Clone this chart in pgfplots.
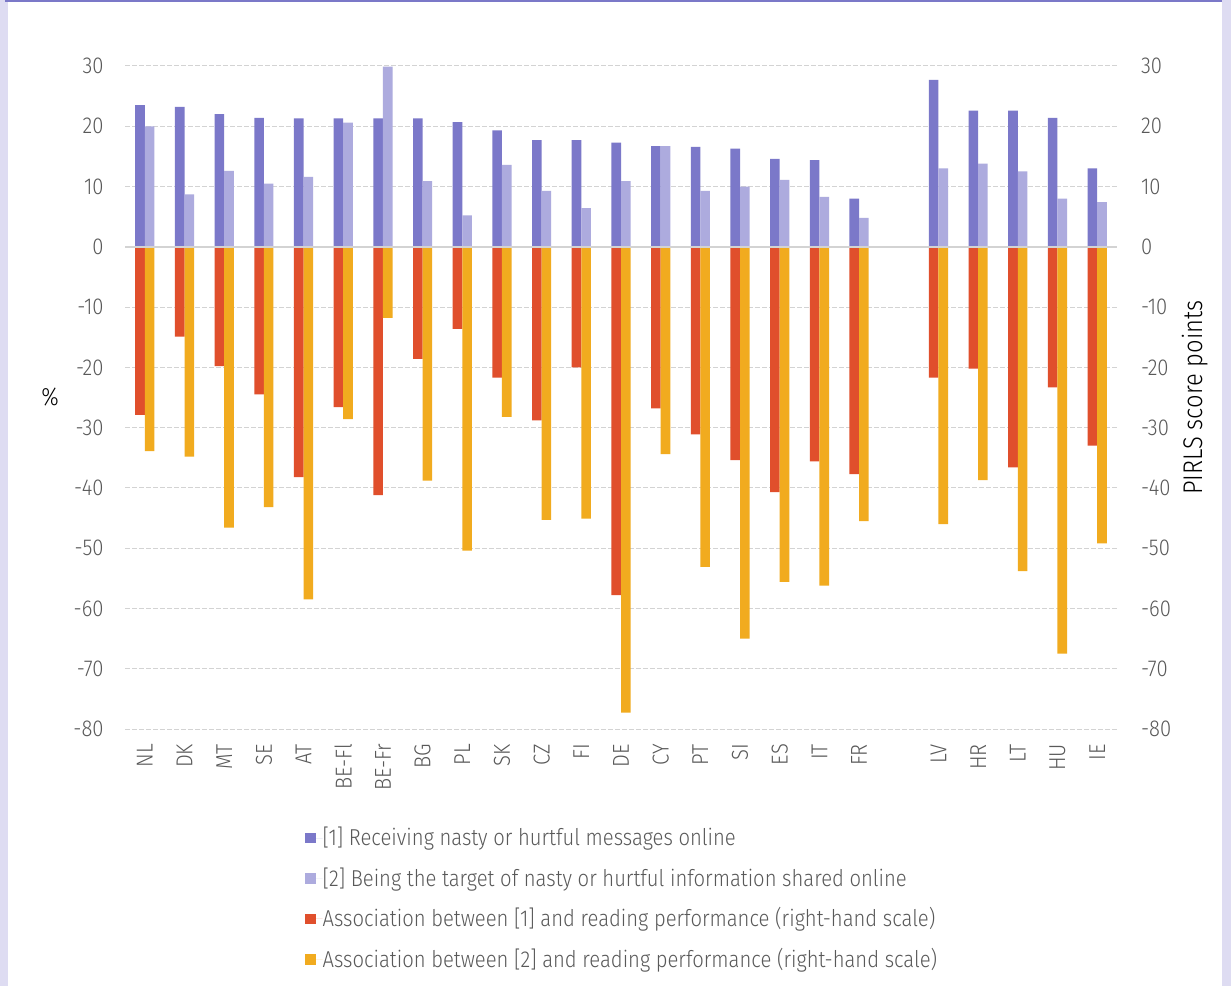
\documentclass[border=0pt]{standalone}
\usepackage{fontspec}
\setmainfont{Fira Sans Light}[FakeStretch=0.88]
\usepackage{pgfplots}
\pgfplotsset{compat=1.18}
\usepackage{pgfplotstable}
\definecolor{bgl}{HTML}{DEDCF2}
\definecolor{topc}{HTML}{7B78C8}
\definecolor{c1}{HTML}{7B78C9}
\definecolor{c2}{HTML}{ADABDE}
\definecolor{c3}{HTML}{E04F2C}
\definecolor{c4}{HTML}{F1AB1F}
\definecolor{txt}{HTML}{595959}
\definecolor{gridc}{HTML}{D3D3D3}
\pgfplotstableread{
x s1 s2 r1 r2
0 23.5 20.0 -27.9 -33.9
1 23.2 8.7 -14.9 -34.8
2 22.0 12.6 -19.8 -46.6
3 21.4 10.5 -24.5 -43.2
4 21.3 11.6 -38.2 -58.5
5 21.3 20.6 -26.6 -28.6
6 21.3 29.9 -41.2 -11.8
7 21.3 10.9 -18.6 -38.8
8 20.7 5.2 -13.6 -50.4
9 19.3 13.6 -21.7 -28.2
10 17.7 9.3 -28.8 -45.3
11 17.7 6.4 -20.0 -45.1
12 17.3 10.9 -57.8 -77.3
13 16.7 16.7 -26.8 -34.4
14 16.6 9.3 -31.1 -53.1
15 16.3 10.0 -35.4 -65.0
16 14.6 11.1 -40.7 -55.6
17 14.4 8.3 -35.6 -56.2
18 8.0 4.8 -37.7 -45.5
20 27.7 13.0 -21.7 -46.0
21 22.6 13.8 -20.2 -38.7
22 22.6 12.5 -36.6 -53.8
23 21.4 8.0 -23.3 -67.5
24 13.0 7.4 -33.0 -49.2
}\data
\pgfplotsset{
  common/.style={
    at={(62.5pt,128.5pt)}, anchor=south west, scale only axis,
    width=496pt, height=331.5pt,
    xmin=-0.5, xmax=24.5, ymin=-80, ymax=30,
    ytick={-80,-70,...,30},
    axis line style={draw=none}, major tick length=0pt,
    /pgf/number format/assume math mode=true,
    ticklabel style={font=\fontsize{11.5}{13.5}\selectfont, text=txt},
    label style={font=\fontsize{11.5}{13.5}\selectfont, text=txt},
  },
  sqlegend/.style={legend image code/.code={\fill[##1] (0pt,-2.6pt) rectangle (5.2pt,2.6pt); \path (0pt,0pt) -- (8.6pt,0pt);}},
}
\begin{document}
\begin{tikzpicture}[x=1pt,y=1pt]
\fill[bgl] (0,0) rectangle (615.5,493);
\fill[white] (4,0) rectangle (611,491.75);
\fill[topc] (2.5,491.75) rectangle (611,493);
\begin{axis}[common,
  xtick={0,1,2,3,4,5,6,7,8,9,10,11,12,13,14,15,16,17,18,20,21,22,23,24},
  xticklabels={NL,DK,MT,SE,AT,BE-Fl,BE-Fr,BG,PL,SK,CZ,FI,DE,CY,PT,SI,ES,IT,FR,LV,HR,LT,HU,IE},
  xticklabel style={rotate=90, anchor=east},
  xticklabel shift=4pt,
  yticklabel shift=7.2pt,
  ymajorgrids, grid style={gridc, line width=0.5pt, dash pattern=on 2.5pt off 1pt},
  ylabel={\%},
  every axis y label/.style={at={(axis description cs:-0.0756,0.5)}, anchor=center, rotate=0, font=\fontsize{12.5}{14}\selectfont},
]
\addplot[ybar, bar width=4.8pt, bar shift=-2.4pt, fill=c1, draw=none] table[x=x, y=s1] {\data};
\addplot[ybar, bar width=4.8pt, bar shift=2.4pt, fill=c2, draw=none] table[x=x, y=s2] {\data};
\end{axis}
\begin{axis}[common, hide x axis,
  ytick pos=right, yticklabel pos=right,
  yticklabel shift=8.5pt,
  ylabel={PIRLS score points},
  every axis y label/.style={at={(axis description cs:1.0786,0.5)}, anchor=center, rotate=90, font=\fontsize{13.5}{15}\selectfont},
  sqlegend,
  legend style={at={(axis description cs:0.1815,-0.1478)}, anchor=north west, draw=none, fill=none,
    inner sep=0pt, row sep=9.3pt, font=\fontsize{11.5}{13.5}\selectfont, text=txt,
    nodes={inner sep=0pt}},
  legend cell align=left,
]
\addlegendimage{fill=c1, draw=none}
\addlegendentry{[1] Receiving nasty or hurtful messages online}
\addlegendimage{fill=c2, draw=none}
\addlegendentry{[2] Being the target of nasty or hurtful information shared online}
\addplot[ybar, bar width=4.8pt, bar shift=-2.4pt, fill=c3, draw=none] table[x=x, y=r1] {\data};
\addlegendentry{Association between [1] and reading performance (right-hand scale)}
\addplot[ybar, bar width=4.8pt, bar shift=2.4pt, fill=c4, draw=none] table[x=x, y=r2] {\data};
\addlegendentry{Association between [2] and reading performance (right-hand scale)}
\draw[gridc, line width=0.75pt] (axis cs:-0.5,0) -- (axis cs:24.5,0);
\end{axis}
\pgfresetboundingbox
\useasboundingbox (0,0) rectangle (615.5,493);
\end{tikzpicture}
\end{document}
